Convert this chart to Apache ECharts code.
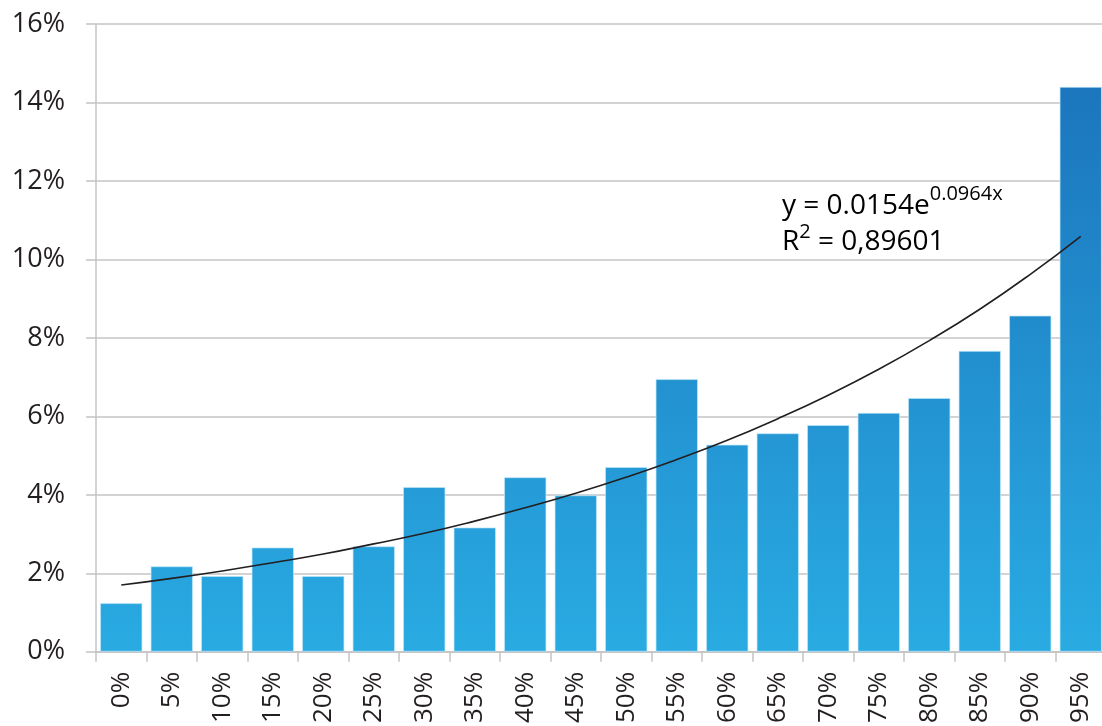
<!DOCTYPE html>
<html>
<head>
<meta charset="utf-8">
<script src="https://cdn.jsdelivr.net/npm/echarts@6/dist/echarts.min.js"></script>
<style>
  html, body { margin: 0; padding: 0; background: #fff; overflow: hidden; }
  /* plot area runs a few pixels past the right edge, as in the original */
  #chart { width: 1106px; height: 726px; }
</style>
</head>
<body>
<div id="chart"></div>
<script>
// categories along the x axis
const categories = ['0%', '5%', '10%', '15%', '20%', '25%', '30%', '35%', '40%', '45%',
  '50%', '55%', '60%', '65%', '70%', '75%', '80%', '85%', '90%', '95%'];

// bar heights, in percent
const barValues = [1.24, 2.18, 1.93, 2.66, 1.93, 2.69, 4.20, 3.17, 4.45, 3.99,
  4.71, 6.95, 5.28, 5.57, 5.78, 6.09, 6.47, 7.67, 8.57, 14.40];

// exponential trend line, read at each category centre
const trendValues = [1.70, 1.87, 2.06, 2.27, 2.49, 2.75, 3.02, 3.33, 3.67, 4.04,
  4.45, 4.90, 5.39, 5.94, 6.54, 7.20, 7.93, 8.73, 9.62, 10.59];

const yTicks = [0, 2, 4, 6, 8, 10, 12, 14, 16];

const FONT = '"Open Sans", sans-serif';
const GREY = '#c4c4c4';
const INK = '#231f20';

let chart = echarts.init(document.getElementById('chart'));

let options = {
  animation: false,
  grid: {
    top: 24,
    left: 96,
    right: 0,
    bottom: 73
  },
  xAxis: {
    type: 'category',
    data: categories,
    axisLine: { lineStyle: { color: GREY, width: 1.5 } },
    axisTick: { show: true, length: 10, lineStyle: { color: GREY, width: 1.5 } },
    axisLabel: {
      rotate: 90,
      margin: 20,
      fontFamily: FONT,
      fontSize: 26,
      color: INK
    }
  },
  yAxis: {
    type: 'value',
    min: yTicks[0],
    max: yTicks[yTicks.length - 1],
    interval: 2,
    axisLine: { show: true, lineStyle: { color: GREY, width: 1.5 } },
    axisTick: { show: true, length: 10, lineStyle: { color: GREY, width: 1.5 } },
    splitLine: { lineStyle: { color: GREY, width: 1.5 } },
    axisLabel: {
      margin: 31,
      fontFamily: FONT,
      fontSize: 27,
      color: INK,
      formatter: v => v + '%'
    }
  },
  series: [
    {
      type: 'bar',
      data: barValues,
      barCategoryGap: '16%',
      itemStyle: {
        color: new echarts.graphic.LinearGradient(0, 24, 0, 653, [
          { offset: 0, color: '#1a70b9' },
          { offset: 1, color: '#29abe2' }
        ], true),
        borderColor: 'rgba(190,230,250,0.7)',
        borderWidth: 1
      }
    },
    {
      type: 'line',
      data: trendValues,
      smooth: true,
      symbol: 'none',
      lineStyle: { color: INK, width: 1.6 },
      z: 5
    }
  ],
  graphic: [
    {
      type: 'text',
      left: 782,
      top: 184,
      style: {
        text: '{b|y = 0.0154e}{s1|0.0964x}\n{b|R}{s2|2}{b| = 0,89601}',
        rich: {
          b: { fontFamily: FONT, fontSize: 28, color: INK, lineHeight: 36, verticalAlign: 'bottom' },
          s1: { fontFamily: FONT, fontSize: 20, color: INK, lineHeight: 20, verticalAlign: 'bottom', padding: [0, 0, 16, 0] },
          s2: { fontFamily: FONT, fontSize: 20, color: INK, lineHeight: 20, verticalAlign: 'bottom', padding: [0, 0, 14, 0] }
        }
      }
    }
  ]
};

chart.setOption(options);
</script>
</body>
</html>
